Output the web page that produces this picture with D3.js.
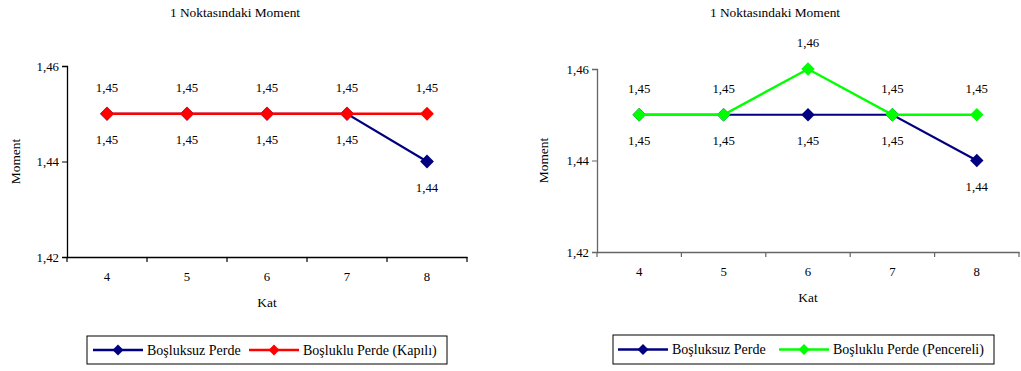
<!DOCTYPE html>
<html><head><meta charset="utf-8">
<script src="https://cdn.jsdelivr.net/npm/d3@7"></script>
<style>body{margin:0;background:#fff}svg{display:block}</style>
</head><body>
<script>
const categories = ["4","5","6","7","8"];
const chartTitle = "1 Noktasındaki Moment";
const yTicks = [1.42, 1.44, 1.46];
const leftSolid = [1.45, 1.45, 1.45, 1.45, 1.44];
const leftKapili = [1.45, 1.45, 1.45, 1.45, 1.45];
const rightSolid = [1.45, 1.45, 1.45, 1.45, 1.44];
const rightPencereli = [1.45, 1.45, 1.46, 1.45, 1.45];
const seriesNames = ["Boşluksuz Perde", "Boşluklu Perde (Kapılı)", "Boşluklu Perde (Pencereli)"];

const FONT = '"Liberation Serif"';
const svg = d3.select("body").append("svg").attr("width",1021).attr("height",371);
const fmt = v => d3.format(".2f")(v).replace(".", ",");
function T(sel, size){ return sel.style("font-family",FONT).style("font-size",size||"12.8px").attr("fill","#000"); }

function drawChart(cfg){
  const g = svg.append("g");
  const x = d3.scaleBand().domain(categories).range([cfg.x0, cfg.x1]);
  const y = d3.scaleLinear().domain([1.42,1.46]).range([cfg.y1, cfg.y0]);
  T(g.append("text").attr("x",cfg.titleX).attr("y",17).attr("text-anchor","middle"),"13.4px").text(chartTitle);
  const ya = g.append("g").attr("transform",`translate(${cfg.x0},0)`)
    .call(d3.axisLeft(y).tickValues(yTicks).tickFormat(fmt).tickSize(5).tickPadding(3));
  const xa = g.append("g").attr("transform",`translate(0,${cfg.y1})`)
    .call(d3.axisBottom(x).tickSize(0).tickPadding(15));
  [ya,xa].forEach(a=>{a.select(".domain").attr("stroke",cfg.axisColor).attr("stroke-width",1.3);
    a.selectAll("line").attr("stroke",cfg.axisColor);
    T(a.selectAll("text"));});
  const edges = categories.map(c=>x(c)).concat([cfg.x1]);
  g.append("g").selectAll("line").data(edges).join("line")
    .attr("x1",d=>d).attr("x2",d=>d).attr("y1",cfg.y1).attr("y2",cfg.y1+5).attr("stroke",cfg.axisColor).attr("stroke-width",1.2);
  T(g.append("text").attr("x",(cfg.x0+cfg.x1)/2).attr("y",cfg.y1+50).attr("text-anchor","middle"),"13.4px").text("Kat");
  T(g.append("text").attr("transform",`translate(${cfg.x0-cfg.ytOff},${(cfg.y0+cfg.y1)/2}) rotate(-90)`).attr("text-anchor","middle"),"13.4px").text("Moment");
  const cx = c => x(c)+x.bandwidth()/2;
  const line = d3.line().x((d,i)=>cx(categories[i])).y(d=>y(d));
  cfg.series.forEach(s=>{
    g.append("path").datum(s.values).attr("d",line).attr("fill","none").attr("stroke",s.color).attr("stroke-width",s.width);
    g.append("g").selectAll("path").data(s.values).join("path")
      .attr("transform",(d,i)=>`translate(${cx(categories[i])},${y(d)}) rotate(45)`)
      .attr("d",d3.symbol().type(d3.symbolSquare).size(cfg.msize)).attr("fill",s.color);
  });
  cfg.series.forEach(s=>{
    T(g.append("g").selectAll("text").data(s.values).join("text")
      .attr("x",(d,i)=>cx(categories[i])).attr("y",d=>y(d)+s.labelDy)
      .attr("text-anchor","middle").attr("dominant-baseline","central")).text(fmt);
  });
  const L = cfg.legend;
  g.append("rect").attr("x",L.x).attr("y",L.y).attr("width",L.w).attr("height",L.h).attr("fill","#fff").attr("stroke","#000").attr("stroke-width",1);
  L.items.forEach((it,i)=>{
    const ly = L.y+L.h/2;
    g.append("line").attr("x1",it.lx).attr("x2",it.lx+50).attr("y1",ly).attr("y2",ly).attr("stroke",it.color).attr("stroke-width",2.5);
    g.append("path").attr("transform",`translate(${it.lx+25},${ly}) rotate(45)`).attr("d",d3.symbol().type(d3.symbolSquare).size(60)).attr("fill",it.color);
    T(g.append("text").attr("x",it.lx+54).attr("y",ly).attr("dominant-baseline","central"),"14px").text(it.name);
  });
}

drawChart({x0:67,x1:467,y0:66,y1:257,titleX:235,axisColor:"#000",msize:95,ytOff:47,
  series:[{values:leftSolid,color:"#000080",width:2.2,labelDy:26},{values:leftKapili,color:"#ff0000",width:2.6,labelDy:-26}],
  legend:{x:87,y:336,w:360,h:28,items:[{lx:93,color:"#000080",name:seriesNames[0]},{lx:249,color:"#ff0000",name:seriesNames[1]}]}});
drawChart({x0:597,x1:1019,y0:69,y1:252,titleX:775,axisColor:"#666",msize:90,ytOff:49,
  series:[{values:rightSolid,color:"#000080",width:2.2,labelDy:26},{values:rightPencereli,color:"#00ff00",width:2.4,labelDy:-26}],
  legend:{x:613,y:335,w:381,h:29,items:[{lx:618,color:"#000080",name:seriesNames[0]},{lx:779,color:"#00ff00",name:seriesNames[2]}]}});
</script>
</body></html>
